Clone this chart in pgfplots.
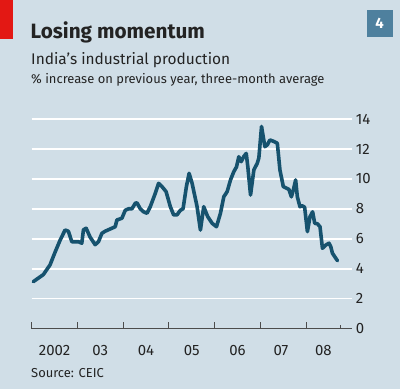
\documentclass[border=0pt]{standalone}
\usepackage{pgfplots}
\pgfplotsset{compat=1.18}
\usepackage{fontspec}
\setmainfont{Fira Sans}
\definecolor{bg}{RGB}{208,222,231}
\definecolor{ln}{RGB}{22,82,110}
\definecolor{redbar}{RGB}{227,24,20}
\definecolor{boxc}{RGB}{78,128,158}
\definecolor{txt}{RGB}{35,35,35}
\begin{document}
\begin{tikzpicture}
\fill[bg] (0,0) rectangle (400bp,-389bp);
\useasboundingbox (0,0) rectangle (400bp,-389bp);
\fill[redbar] (0,0) rectangle (13.3bp,-38.5bp);
\fill[boxc] (366.7bp,-10bp) rectangle (392.7bp,-36.7bp);
\node[text=white, font=\fontsize{15}{16}\selectfont\bfseries, anchor=center] at (379.7bp,-23.3bp) {4};
\node[anchor=base west, inner sep=0pt, text=txt, font=\fontsize{20.8}{24}\selectfont\bfseries] at (30.5bp,-38.3bp) {Losing momentum};
\node[anchor=base west, inner sep=0pt, text=txt, font=\fontsize{15.5}{18}\selectfont] at (31bp,-64.3bp) {India’s industrial production};
\node[anchor=base west, inner sep=0pt, text=txt, font=\fontsize{13}{14}\selectfont] at (31bp,-83.3bp) {\% increase on previous year, three-month average};
\node[anchor=base west, inner sep=0pt, text=txt, font=\fontsize{13}{14}\selectfont] at (31bp,-377bp) {Source: CEIC};
\begin{axis}[
  at={(31.7bp,-328.5bp)}, anchor=south west,
  scale only axis, width=320bp, height=209.5bp,
  xmin=2002, xmax=2009, ymin=0, ymax=14,
  axis line style={draw=none},
  clip=false,
  /pgf/number format/assume math mode=true,
  tick label style={font=\fontsize{15}{16}\selectfont, text=txt, inner sep=0pt},
  xtick={2002,2003,2004,2005,2006,2007,2008},
  xticklabels={},
  minor xtick={2008.76},
  xtick pos=lower,
  tick align=inside,
  major tick length=7bp,
  minor tick length=4bp,
  x tick style={black!70, line width=0.7bp},
  extra x ticks={2002.5,2003.5,2004.5,2005.5,2006.5,2007.45,2008.38},
  extra x tick labels={2002,03,04,05,06,07,08},
  extra x tick style={major tick length=0pt, tick label style={anchor=base, yshift=-26.5bp}},
  ytick={0,2,4,6,8,10,12,14},
  yticklabels={0,2,4,6,8,10,12,14},
  ytick pos=right,
  yticklabel pos=right,
  y tick style={draw=none},
  y tick label style={anchor=west, xshift=4bp},
  ymajorgrids,
  major grid style={white, line width=1.8bp},
]
\draw[black!70, line width=0.7bp] (axis cs:2002,0) -- (axis cs:2009,0);
\addplot[ln, line width=3.6bp, line join=round, line cap=round] coordinates {
(2002.035,3.13) (2002.254,3.6) (2002.401,4.25) (2002.511,5.1) (2002.621,5.9)
(2002.730,6.58) (2002.803,6.5) (2002.877,5.8) (2003.022,5.8) (2003.096,5.7)
(2003.132,6.6) (2003.191,6.7) (2003.279,6.1) (2003.388,5.6) (2003.461,5.8)
(2003.535,6.36) (2003.607,6.5) (2003.680,6.6) (2003.754,6.7) (2003.827,6.8)
(2003.864,7.25) (2003.974,7.37) (2004.046,7.9) (2004.118,8.0) (2004.193,8.0)
(2004.265,8.37) (2004.303,8.4) (2004.375,8.0) (2004.447,7.8) (2004.522,7.7)
(2004.594,8.14) (2004.704,9.04) (2004.776,9.7) (2004.851,9.48) (2004.939,9.15)
(2005.033,8.14) (2005.105,7.59) (2005.180,7.6) (2005.252,7.9) (2005.311,8.0)
(2005.384,9.48) (2005.443,10.37) (2005.509,9.7) (2005.618,8.14) (2005.691,6.58)
(2005.763,8.14) (2005.851,7.47) (2005.947,7.03) (2006.042,6.8) (2006.129,7.7)
(2006.202,8.8) (2006.276,9.15) (2006.349,9.93) (2006.421,10.48) (2006.480,10.8)
(2006.531,11.48) (2006.583,11.15) (2006.640,11.5) (2006.693,11.7) (2006.728,10.8)
(2006.787,8.92) (2006.860,10.6) (2006.934,11.04) (2006.969,11.4) (2007.028,13.5)
(2007.101,12.15) (2007.154,12.27) (2007.211,12.6) (2007.298,12.5) (2007.373,12.38)
(2007.430,10.6) (2007.504,9.48) (2007.577,9.37) (2007.627,9.3) (2007.680,8.8)
(2007.724,9.26) (2007.774,9.93) (2007.811,8.8) (2007.868,8.14) (2007.921,8.2)
(2007.971,8.1) (2008.031,6.47) (2008.088,7.47) (2008.145,7.8) (2008.191,7.03)
(2008.250,7.0) (2008.307,6.8) (2008.360,5.36) (2008.434,5.58) (2008.504,5.7)
(2008.542,5.47) (2008.579,5.03) (2008.689,4.53)
};
\end{axis}
\end{tikzpicture}
\end{document}
